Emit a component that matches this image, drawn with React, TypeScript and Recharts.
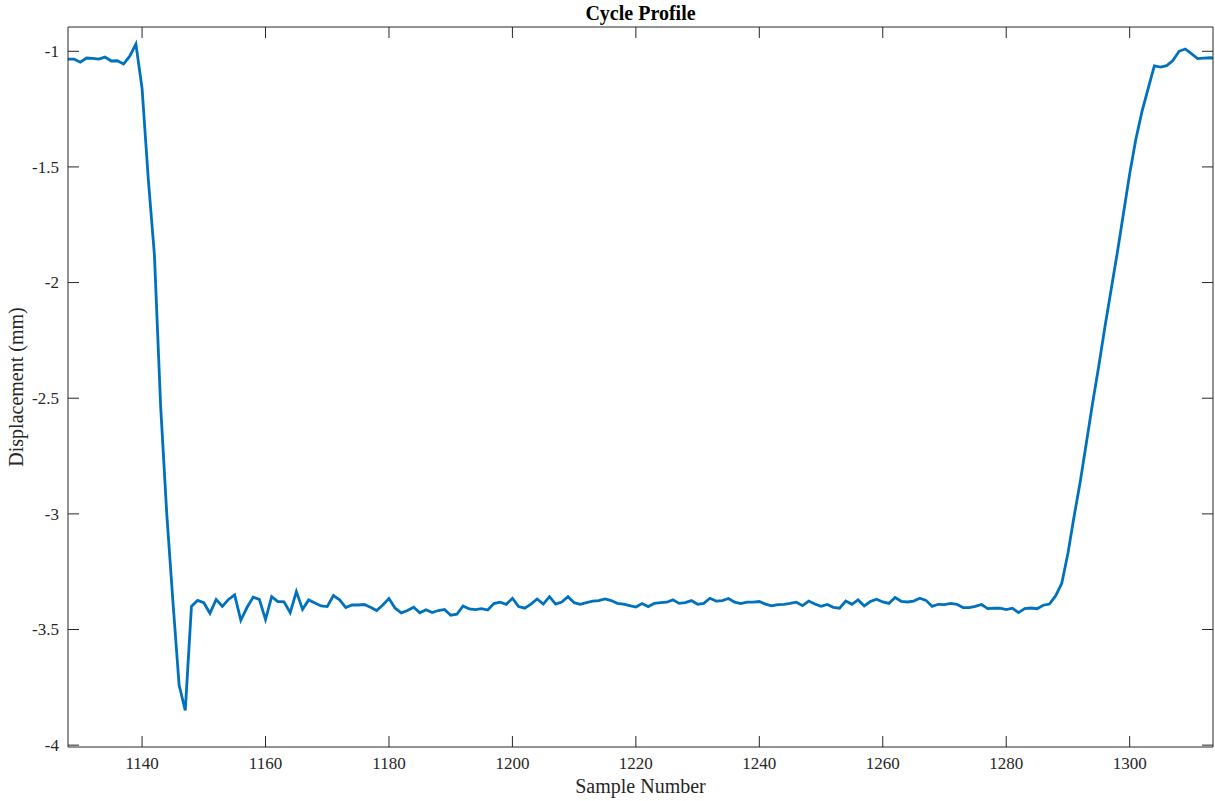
import { LineChart, Line, XAxis, YAxis } from 'recharts';

// sample numbers start here and run one per value
const FIRST_SAMPLE = 1128;

// displacement (mm), split by phase of the cycle
const preDrop = [-1.034, -1.034, -1.047, -1.029, -1.031, -1.034, -1.025, -1.042, -1.041, -1.055, -1.021, -0.969];
const drop = [-1.16, -1.55, -1.88, -2.53, -3.0, -3.38, -3.74, -3.85];
const settle = [
  -3.4, -3.374, -3.384, -3.43, -3.37, -3.4, -3.37, -3.35, -3.46, -3.405,
  -3.36, -3.37, -3.457, -3.358, -3.379, -3.38, -3.427, -3.336, -3.413, -3.372,
  -3.385, -3.398, -3.401, -3.353, -3.372, -3.405, -3.394, -3.394, -3.392, -3.404,
  -3.418, -3.394, -3.366, -3.408, -3.428, -3.418, -3.404, -3.428, -3.415, -3.427,
  -3.418, -3.413, -3.438, -3.434,
];
const holdA = [
  -3.398, -3.411, -3.414, -3.41, -3.416, -3.388, -3.382, -3.391, -3.365, -3.401,
  -3.408, -3.39, -3.368, -3.39, -3.358, -3.39, -3.381, -3.358, -3.384, -3.391,
  -3.384, -3.377, -3.375, -3.368, -3.375, -3.387, -3.39, -3.397, -3.403, -3.388,
  -3.401, -3.387, -3.384, -3.382, -3.372, -3.387, -3.384,
];
const holdB = [
  -3.375, -3.391, -3.387, -3.365, -3.377, -3.375, -3.366, -3.382, -3.388, -3.382,
  -3.382, -3.379, -3.39, -3.398, -3.392, -3.391, -3.387, -3.382, -3.397, -3.377,
  -3.39, -3.4, -3.392, -3.404, -3.408, -3.377, -3.391, -3.372, -3.398, -3.379,
  -3.369, -3.381, -3.387, -3.362, -3.378, -3.381, -3.377, -3.365, -3.374, -3.4,
  -3.391, -3.392, -3.387, -3.391, -3.405, -3.405, -3.4, -3.392, -3.41, -3.408,
  -3.408, -3.414, -3.408, -3.427, -3.41, -3.407, -3.41, -3.395, -3.39, -3.355,
];
const rise = [-3.3, -3.17, -3.01, -2.86, -2.69, -2.52, -2.36, -2.19, -2.03, -1.87, -1.7, -1.53, -1.38, -1.26, -1.16];
const recovered = [-1.063, -1.068, -1.062, -1.04, -1.0, -0.99, -1.01, -1.032, -1.03, -1.028, -1.03];

const xTicks = [1140, 1160, 1180, 1200, 1220, 1240, 1260, 1280, 1300];
const yTicks = [-4, -3.5, -3, -2.5, -2, -1.5, -1];

const displacement = [...preDrop, ...drop, ...settle, ...holdA, ...holdB, ...rise, ...recovered];
const data = displacement.map((d, i) => ({ sample: FIRST_SAMPLE + i, d }));

const FONT = "'Liberation Serif', 'Times New Roman', serif";
const AXIS = '#262626';
const blank = () => '';

// serif tick labels (the tick object prop did not carry the font through)
const XTick = (p: any) => (
  <text x={p.x} y={p.y} dy="0.71em" textAnchor="middle" fill={AXIS} style={{ fontFamily: FONT, fontSize: 17 }}>
    {p.payload.value}
  </text>
);
const YTick = (p: any) => (
  <text x={p.x} y={p.y} dy="0.34em" textAnchor="end" fill={AXIS} style={{ fontFamily: FONT, fontSize: 17 }}>
    {p.payload.value}
  </text>
);

export default function App() {
  return (
    <div style={{ position: 'absolute', left: 0, top: 0, background: '#fff', fontFamily: FONT }}>
      <LineChart width={1215} height={801} data={data} margin={{ top: 26, right: 1, left: 0, bottom: 0 }}>
        <XAxis
          xAxisId="b"
          dataKey="sample"
          type="number"
          domain={[1128, 1313.5]}
          allowDataOverflow
          ticks={xTicks}
          height={54}
          stroke={AXIS}
          tickSize={-11}
          tickMargin={21}
          tick={<XTick />}
          label={{ value: 'Sample Number', position: 'insideBottom', offset: 8, style: { fontFamily: FONT, fontSize: 20, fill: AXIS } }}
        />
        <XAxis
          xAxisId="t"
          orientation="top"
          dataKey="sample"
          type="number"
          domain={[1128, 1313.5]}
          allowDataOverflow
          ticks={xTicks}
          height={1}
          stroke={AXIS}
          tickSize={-11}
          tickFormatter={blank}
          label={{ value: 'Cycle Profile', position: 'top', offset: 6, style: { fontFamily: FONT, fontSize: 20, fontWeight: 'bold', fill: '#000' } }}
        />
        <YAxis
          yAxisId="l"
          type="number"
          domain={[-4.008, -0.895]}
          allowDataOverflow
          ticks={yTicks}
          width={68}
          stroke={AXIS}
          tickSize={-11}
          tickMargin={20}
          tick={<YTick />}
          label={{ value: 'Displacement (mm)', angle: -90, position: 'insideLeft', offset: 16, style: { textAnchor: 'middle', fontFamily: FONT, fontSize: 20, fill: AXIS } }}
        />
        <YAxis
          yAxisId="r"
          orientation="right"
          type="number"
          domain={[-4.008, -0.895]}
          allowDataOverflow
          ticks={yTicks}
          width={1}
          stroke={AXIS}
          tickSize={-11}
          tickFormatter={blank}
        />
        <Line
          xAxisId="b"
          yAxisId="l"
          type="linear"
          dataKey="d"
          stroke="#0072BD"
          strokeWidth={2.8}
          dot={false}
          isAnimationActive={false}
        />
      </LineChart>
    </div>
  );
}
